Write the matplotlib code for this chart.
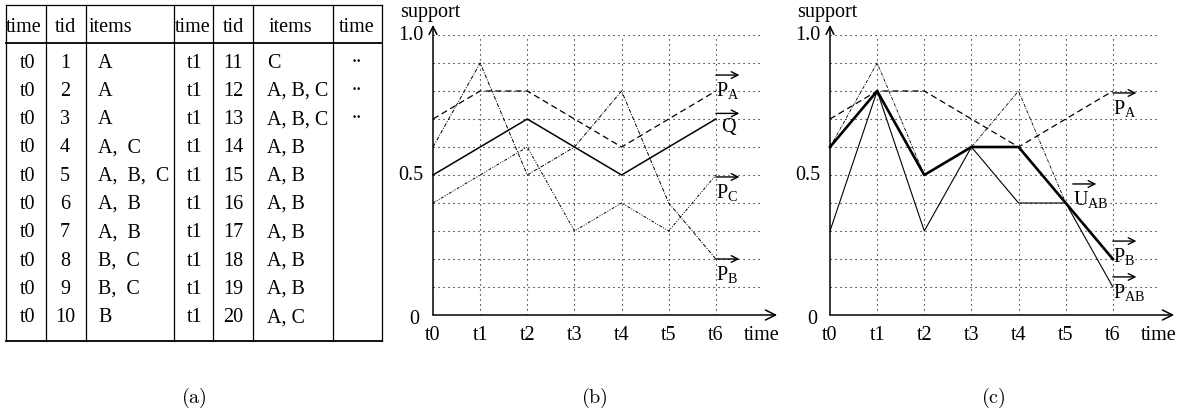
import matplotlib
matplotlib.use("Agg")
from matplotlib import pyplot as plt

plt.rcParams['font.family'] = 'Liberation Serif'
plt.rcParams['mathtext.fontset'] = 'custom'
plt.rcParams['mathtext.rm'] = 'Liberation Serif'
plt.rcParams['mathtext.it'] = 'Liberation Serif:italic'

# tabulka (a)
cas1 = ['t0'] * 10
tid1 = [str(i) for i in range(1, 11)]
polozky1 = ['A', 'A', 'A', 'A,  C', 'A,  B,  C', 'A,  B', 'A,  B', 'B,  C', 'B,  C', 'B']
cas2 = ['t1'] * 10
tid2 = [str(i) for i in range(11, 21)]
polozky2 = ['C', 'A, B, C', 'A, B, C', 'A, B', 'A, B', 'A, B', 'A, B', 'A, B', 'A, B', 'A, C']
cas3 = ['..', '..', '..']
hlavicka = ['time', 'tid', 'items', 'time', 'tid', 'items', 'time']

# grafy (b) a (c)
casy = ['t0', 't1', 't2', 't3', 't4', 't5', 't6']
p_a = [0.7, 0.8, 0.8, 0.7, 0.6, 0.7, 0.8]
q = [0.5, 0.6, 0.7, 0.6, 0.5, 0.6, 0.7]
p_b = [0.6, 0.9, 0.5, 0.6, 0.8, 0.4, 0.2]
p_c = [0.4, 0.5, 0.6, 0.3, 0.4, 0.3, 0.5]
u_ab = [0.6, 0.8, 0.5, 0.6, 0.6, 0.4, 0.2]
p_ab = [0.3, 0.8, 0.3, 0.6, 0.4, 0.4, 0.1]

FS = 14.5

fig = plt.figure(figsize=(11.82, 4.13), dpi=100)

# --- (a) tabulka v pixelovych souradnicich
ax0 = fig.add_axes([0, 0, 1, 1])
ax0.set_xlim(0, 1182)
ax0.set_ylim(413, 0)
ax0.axis('off')

svisle = [6, 46, 86, 174, 213, 253, 333, 382]
for x in svisle:
    ax0.plot([x, x], [5, 341], color='black', lw=0.9)
ax0.plot([6, 382], [5, 5], color='black', lw=0.9)
ax0.plot([6, 382], [43, 43], color='black', lw=1.3)
ax0.plot([6, 382], [341, 341], color='black', lw=1.3)

stredy_hlavicky = [24, 65, 110, 193, 233, 290, 357]
for x, h in zip(stredy_hlavicky, hlavicka):
    ax0.text(x, 27, h, ha='center', va='center', fontsize=FS)

for i in range(10):
    y = 63 + i * 28.3
    ax0.text(28, y, cas1[i], ha='center', va='center', fontsize=FS)
    ax0.text(65, y, tid1[i], ha='center', va='center', fontsize=FS)
    ax0.text(98, y, polozky1[i], ha='left', va='center', fontsize=FS)
    ax0.text(195, y, cas2[i], ha='center', va='center', fontsize=FS)
    ax0.text(233, y, tid2[i], ha='center', va='center', fontsize=FS)
    ax0.text(267, y, polozky2[i], ha='left', va='center', fontsize=FS)
for i, t in enumerate(cas3):
    ax0.text(357, 63 + i * 28.3 - 6, t, ha='center', va='center', fontsize=FS)

for x, s in zip([194, 594, 993], ['(a)', '(b)', '(c)']):
    ax0.text(x, 398, r'$\mathrm{' + s + '}$', ha='center', va='center',
             fontsize=FS, math_fontfamily='cm')


def rama(ax, x_nula):
    ax.set_xlim(0, 7)
    ax.set_ylim(0, 1)
    ax.axis('off')
    for k in range(1, 11):
        ax.plot([0, 7], [k / 10, k / 10], color='black', lw=0.8, dashes=(1, 3.5))
    for k in range(1, 7):
        ax.plot([k, k], [0, 1], color='black', lw=0.8, dashes=(1, 3.5))
    ax.annotate('', xy=(7.3, 0), xytext=(0, 0), annotation_clip=False,
                arrowprops=dict(arrowstyle='->', lw=1.1, color='black',
                                shrinkA=0, shrinkB=0, mutation_scale=18))
    ax.annotate('', xy=(0, 1.036), xytext=(0, 0), annotation_clip=False,
                arrowprops=dict(arrowstyle='->', lw=1.1, color='black',
                                shrinkA=0, shrinkB=0, mutation_scale=14))
    for i, t in enumerate(casy):
        ax.text(i, -0.075, t, ha='center', va='center', fontsize=FS)
    ax.text(6.97, -0.075, 'time', ha='center', va='center', fontsize=FS)
    ax.text(x_nula, -0.015, '0', ha='center', va='center', fontsize=FS)
    ax.text(-0.2, 0.5, '0.5', ha='right', va='center', fontsize=FS)
    ax.text(-0.2, 1.0, '1.0', ha='right', va='center', fontsize=FS)
    ax.text(-0.7, 1.082, 'support', ha='left', va='center', fontsize=FS)


def popisek(ax, x0, y0, text, dx=0.0):
    # vektor: sipka nad popiskem
    ax.annotate('', xy=(x0 + 0.5, y0), xytext=(x0, y0), annotation_clip=False,
                arrowprops=dict(arrowstyle='->', lw=1.0, color='black',
                                shrinkA=0, shrinkB=0, mutation_scale=12))
    ax.text(x0 + dx, y0 - 0.018, text, ha='left', va='top', fontsize=FS)


x = list(range(len(casy)))
vyska = 280 / 413
spodek = (413 - 315) / 413

# --- (b)
ax1 = fig.add_axes([433 / 1182, spodek, 330 / 1182, vyska])
rama(ax1, -0.4)
ax1.plot(x, p_a, color='black', lw=0.9, dashes=(5, 3), clip_on=False)
ax1.plot(x, q, color='black', lw=1.1, clip_on=False)
ax1.plot(x, p_b, color='black', lw=0.7, dashes=(4, 1.5, 1, 1.5), clip_on=False)
ax1.plot(x, p_c, color='black', lw=0.7, dashes=(3, 1.5, 1, 1.5, 1, 1.5), clip_on=False)
popisek(ax1, 6.0, 0.857, r'$\mathrm{P}_\mathrm{A}$')
popisek(ax1, 6.0, 0.72, 'Q', dx=0.12)
popisek(ax1, 6.0, 0.493, r'$\mathrm{P}_\mathrm{C}$')
popisek(ax1, 6.0, 0.2, r'$\mathrm{P}_\mathrm{B}$')

# --- (c)
ax2 = fig.add_axes([830 / 1182, spodek, 330 / 1182, vyska])
rama(ax2, -0.38)
ax2.plot(x, p_a, color='black', lw=0.9, dashes=(5, 3), clip_on=False)
ax2.plot(x, p_b, color='black', lw=0.6, dashes=(4, 1.5, 1, 1.5), clip_on=False)
ax2.plot(x, p_ab, color='black', lw=0.8, clip_on=False)
ax2.plot(x, u_ab, color='black', lw=1.9, clip_on=False)
popisek(ax2, 6.0, 0.793, r'$\mathrm{P}_\mathrm{A}$')
popisek(ax2, 5.15, 0.468, r'$\mathrm{U}_\mathrm{AB}$')
popisek(ax2, 6.0, 0.264, r'$\mathrm{P}_\mathrm{B}$')
popisek(ax2, 6.0, 0.136, r'$\mathrm{P}_\mathrm{AB}$')

fig.savefig('out.png', dpi=100)
